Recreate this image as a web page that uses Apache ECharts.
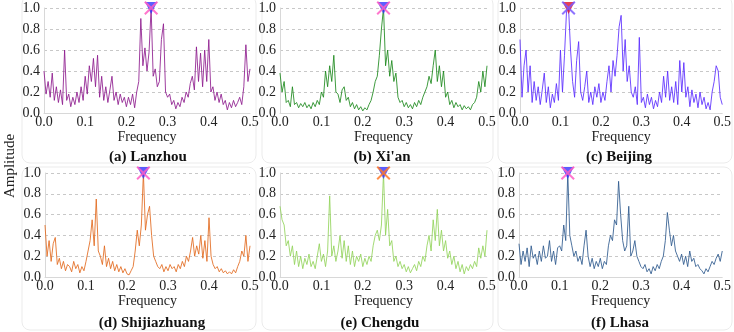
<!DOCTYPE html>
<html lang="en">
<head>
<meta charset="UTF-8">
<title>Amplitude spectra</title>
<style>
    * { margin: 0; padding: 0; }
    #chart { width: 734px; height: 332px; background: #fff; }
</style>
<script src="https://cdn.jsdelivr.net/npm/echarts@6/dist/echarts.min.js"></script>
</head>
<body>
<div id="chart"></div>
<script>
// frequency grid: 0 .. 0.5, step 0.005
var freqStep = 0.005;
var cities = ['(a) Lanzhou', "(b) Xi'an", '(c) Beijing', '(d) Shijiazhuang', '(e) Chengdu', '(f) Lhasa'];

var ampLanzhou = [0.40,0.18,0.30,0.15,0.38,0.12,0.25,0.10,0.22,0.08,0.60,0.12,0.18,0.06,0.15,0.08,0.20,0.10,0.25,0.12,
    0.35,0.18,0.45,0.30,0.52,0.25,0.55,0.15,0.35,0.12,0.25,0.10,0.22,0.35,0.12,0.20,0.08,0.18,0.10,0.15,
    0.06,0.15,0.08,0.18,0.05,0.20,0.30,0.90,0.45,0.62,0.40,0.58,1.00,0.35,0.42,0.25,0.30,0.70,0.85,0.20,
    0.15,0.18,0.08,0.12,0.04,0.10,0.06,0.15,0.10,0.20,0.15,0.28,0.35,0.22,0.63,0.30,0.57,0.25,0.60,0.30,
    0.70,0.20,0.25,0.12,0.20,0.10,0.18,0.08,0.12,0.03,0.10,0.05,0.12,0.06,0.10,0.15,0.08,0.25,0.65,0.30,0.42];
var ampXian = [0.38,0.20,0.30,0.10,0.12,0.06,0.25,0.08,0.10,0.05,0.09,0.06,0.10,0.05,0.08,0.04,0.10,0.06,0.12,0.08,
    0.20,0.15,0.40,0.25,0.45,0.30,0.55,0.20,0.18,0.10,0.22,0.25,0.12,0.15,0.06,0.10,0.04,0.08,0.03,0.06,
    0.02,0.05,0.03,0.08,0.12,0.20,0.30,0.35,0.55,0.80,1.00,0.45,0.60,0.35,0.50,0.30,0.38,0.15,0.10,0.12,
    0.06,0.10,0.05,0.08,0.04,0.10,0.06,0.12,0.08,0.15,0.20,0.25,0.35,0.28,0.45,0.60,0.30,0.45,0.25,0.40,
    0.15,0.20,0.08,0.12,0.05,0.10,0.06,0.08,0.03,0.07,0.04,0.06,0.03,0.08,0.10,0.15,0.30,0.20,0.40,0.25,0.45];
var ampBeijing = [0.70,0.15,0.45,0.60,0.20,0.45,0.10,0.30,0.12,0.25,0.08,0.22,0.38,0.10,0.25,0.05,0.18,0.10,0.28,0.12,
    0.60,0.20,0.55,0.97,1.00,0.60,0.30,0.15,0.50,0.68,0.20,0.12,0.25,0.40,0.10,0.20,0.08,0.25,0.15,0.28,
    0.10,0.20,0.12,0.30,0.45,0.20,0.50,0.35,0.55,0.82,0.93,0.40,0.70,0.30,0.45,0.20,0.15,0.25,0.08,0.72,
    0.10,0.15,0.05,0.18,0.08,0.15,0.04,0.12,0.06,0.20,0.10,0.35,0.15,0.40,0.12,0.25,0.10,0.30,0.08,0.50,
    0.20,0.48,0.15,0.25,0.06,0.22,0.10,0.18,0.05,0.20,0.08,0.15,0.04,0.10,0.03,0.20,0.30,0.45,0.40,0.15,0.08];
var ampShijiazhuang = [0.50,0.20,0.35,0.15,0.32,0.38,0.12,0.18,0.08,0.15,0.06,0.12,0.10,0.05,0.15,0.08,0.12,0.04,0.10,0.06,
    0.15,0.25,0.35,0.55,0.30,0.75,0.25,0.20,0.12,0.30,0.10,0.18,0.08,0.15,0.06,0.12,0.05,0.10,0.04,0.08,
    0.03,0.02,0.06,0.10,0.25,0.45,0.30,0.50,1.00,0.45,0.60,0.68,0.40,0.20,0.15,0.10,0.08,0.12,0.05,0.10,
    0.06,0.12,0.08,0.10,0.05,0.12,0.08,0.15,0.10,0.20,0.15,0.25,0.38,0.20,0.30,0.22,0.40,0.18,0.35,0.15,
    0.57,0.20,0.12,0.08,0.10,0.05,0.08,0.04,0.06,0.03,0.05,0.03,0.07,0.04,0.10,0.15,0.25,0.20,0.40,0.15,0.30];
var ampChengdu = [0.68,0.55,0.50,0.30,0.35,0.20,0.30,0.12,0.25,0.10,0.20,0.08,0.18,0.12,0.22,0.10,0.15,0.08,0.20,0.32,
    0.15,0.22,0.10,0.25,0.78,0.20,0.30,0.15,0.25,0.40,0.18,0.35,0.15,0.30,0.12,0.25,0.10,0.20,0.15,0.22,
    0.10,0.18,0.12,0.20,0.15,0.30,0.40,0.45,0.35,0.50,1.00,0.40,0.65,0.30,0.35,0.15,0.20,0.10,0.15,0.08,
    0.12,0.05,0.10,0.04,0.08,0.12,0.06,0.15,0.10,0.20,0.15,0.30,0.40,0.25,0.55,0.35,0.65,0.30,0.45,0.25,
    0.35,0.18,0.25,0.12,0.20,0.08,0.15,0.05,0.12,0.03,0.10,0.06,0.12,0.08,0.15,0.10,0.28,0.18,0.30,0.20,0.45];
var ampLhasa = [0.32,0.12,0.25,0.15,0.28,0.10,0.30,0.18,0.22,0.12,0.25,0.15,0.30,0.18,0.20,0.35,0.15,0.25,0.12,0.28,
    0.30,0.25,0.50,0.35,1.00,0.40,0.30,0.20,0.25,0.15,0.20,0.12,0.30,0.45,0.20,0.10,0.18,0.08,0.15,0.10,
    0.18,0.08,0.15,0.12,0.30,0.40,0.35,0.55,0.50,0.92,0.60,0.35,0.25,0.30,0.68,0.20,0.25,0.35,0.20,0.15,
    0.10,0.08,0.12,0.05,0.08,0.03,0.10,0.06,0.12,0.08,0.15,0.20,0.35,0.62,0.45,0.30,0.40,0.25,0.20,0.15,
    0.22,0.12,0.20,0.10,0.25,0.15,0.18,0.10,0.12,0.08,0.06,0.03,0.08,0.05,0.10,0.15,0.12,0.18,0.22,0.15,0.25];

var amps = [ampLanzhou, ampXian, ampBeijing, ampShijiazhuang, ampChengdu, ampLhasa];
var lineColors = ['#8e1c8e', '#1d8a1d', '#5b2dff', '#e26a1e', '#93d35c', '#2f5b8e'];
var triColors = ['#3535ff', '#3535ff', '#e0102a', '#3535ff', '#3535ff', '#3535ff'];
var crossColors = ['#ff5ec4', '#ff5ec4', '#7a5cff', '#ff5ec4', '#ff7a2a', '#ff5ec4'];

// grid boxes [left, top, width, height]
var boxes = [[44, 8, 206, 105], [280, 8, 207, 105], [520, 8, 205, 105],
             [45, 173, 205, 104], [280, 173, 207, 104], [519, 173, 206, 104]];
// panel frames [x, y, w, h]
var frames = [[22, -4, 234, 167], [262, -4, 231, 167], [498, -4, 234, 167],
              [22, 167, 234, 163], [262, 167, 231, 163], [498, 167, 234, 163]];
var titleCenters = [[148, 157], [382, 157], [619, 157], [152, 323], [380, 323], [620, 323]];

var FONT = '"Liberation Serif", "DejaVu Serif", serif';
var crossPath = 'path://M0,1 L1,0 L5,4 L9,0 L10,1 L6,5 L10,9 L9,10 L5,6 L1,10 L0,9 L4,5 Z';

var chart = echarts.init(document.getElementById('chart'));

var grid = [], xAxis = [], yAxis = [], series = [], graphic = [];
for (var k = 0; k < 6; k++) {
    var b = boxes[k];
    grid.push({ left: b[0], top: b[1], width: b[2], height: b[3] });
    xAxis.push({
        type: 'value', gridIndex: k, min: 0, max: 0.5, interval: 0.1,
        name: 'Frequency', nameLocation: 'middle', nameGap: 17,
        nameTextStyle: { fontFamily: FONT, fontSize: 14, color: '#222' },
        axisLine: { show: true, lineStyle: { color: '#d8d8d8' } },
        axisTick: { show: false },
        axisLabel: { fontFamily: FONT, fontSize: 14, color: '#222', margin: 2,
            formatter: function (v) { return v.toFixed(1); } },
        splitLine: { show: false }
    });
    yAxis.push({
        type: 'value', gridIndex: k, min: 0, max: 1, interval: 0.2,
        axisLine: { show: true, lineStyle: { color: '#d8d8d8' } },
        axisTick: { show: false },
        axisLabel: { fontFamily: FONT, fontSize: 14, color: '#222', margin: 4,
            formatter: function (v) { return v.toFixed(1); } },
        splitLine: { show: true, lineStyle: { color: '#c8c8c8', type: [3, 3] } }
    });

    var arr = amps[k];
    var pts = arr.map(function (v, i) { return [+(i * freqStep).toFixed(3), v]; });
    var peak = 0;
    for (var i = 1; i < arr.length; i++) if (arr[i] > arr[peak]) peak = i;

    series.push({
        type: 'line', xAxisIndex: k, yAxisIndex: k, data: pts,
        symbol: 'none', silent: true,
        lineStyle: { color: lineColors[k], width: 1, opacity: 0.85 }
    });
    series.push({
        type: 'scatter', xAxisIndex: k, yAxisIndex: k, data: [pts[peak]],
        symbol: 'triangle', symbolRotate: 180, symbolSize: 12, z: 5,
        itemStyle: { color: triColors[k] }
    });
    series.push({
        type: 'scatter', xAxisIndex: k, yAxisIndex: k, data: [pts[peak]],
        symbol: crossPath, symbolSize: 14, z: 6,
        itemStyle: { color: crossColors[k], opacity: 0.85 }
    });

    var f = frames[k];
    graphic.push({
        type: 'rect', shape: { x: f[0], y: f[1], width: f[2], height: f[3], r: 8 },
        style: { fill: 'none', stroke: '#ebebeb', lineWidth: 1 }, z: -1
    });
    graphic.push({
        type: 'text', x: titleCenters[k][0], y: titleCenters[k][1],
        style: { text: cities[k], fontFamily: FONT, fontSize: 15, fontWeight: 'bold',
            fill: '#111', align: 'center', verticalAlign: 'middle' }
    });
}
graphic.push({
    type: 'text', x: 10, y: 166, rotation: Math.PI / 2,
    style: { text: 'Amplitude', fontFamily: FONT, fontSize: 15, fill: '#222',
        align: 'center', verticalAlign: 'middle' }
});

chart.setOption({
    animation: false,
    grid: grid, xAxis: xAxis, yAxis: yAxis, series: series, graphic: graphic
});
</script>
</body>
</html>
